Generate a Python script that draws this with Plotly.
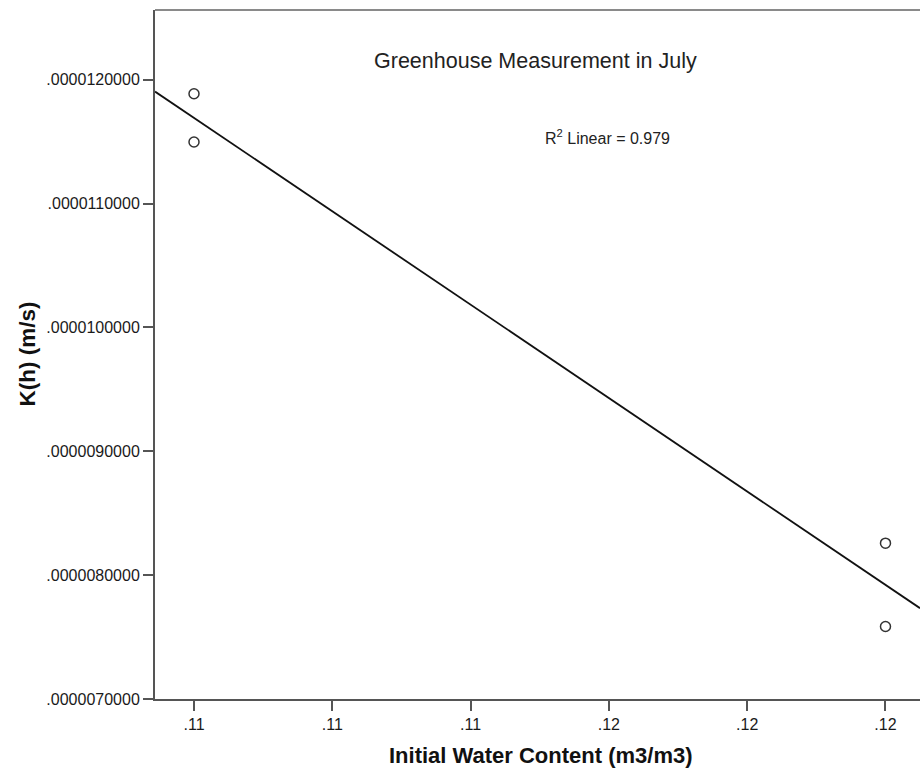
import numpy as np
import plotly.graph_objects as go

# Measured initial water content (m3/m3) and hydraulic conductivity K(h) (m/s)
water_content = [0.110, 0.110, 0.120, 0.120]
conductivity = [11.887e-6, 11.497e-6, 8.258e-6, 7.585e-6]

x_tick_vals = [0.110, 0.112, 0.114, 0.116, 0.118, 0.120]
x_tick_text = [".11", ".11", ".11", ".12", ".12", ".12"]
y_tick_vals = [7e-6, 8e-6, 9e-6, 10e-6, 11e-6, 12e-6]
y_tick_text = [".0000070000", ".0000080000", ".0000090000",
               ".0000100000", ".0000110000", ".0000120000"]

title_text = "Greenhouse Measurement in July"
r2_text = "R<sup>2</sup> Linear = 0.979"
x_title = "Initial Water Content (m3/m3)"
y_title = "K(h) (m/s)"

x_range = [0.109436, 0.120499]
y_range = [7.0e-6, 12.563e-6]

# Least-squares linear fit across the visible x range
slope, intercept = np.polyfit(water_content, conductivity, 1)
fit_x = np.array(x_range)
fit_y = slope * fit_x + intercept

FONT = "Liberation Sans, Arial, sans-serif"
AXIS_COLOR = "#555555"

fig = go.Figure()
fig.add_trace(go.Scatter(
    x=fit_x, y=fit_y, mode="lines",
    line=dict(color="#111111", width=1.8),
    hoverinfo="skip", showlegend=False,
))
fig.add_trace(go.Scatter(
    x=water_content, y=conductivity, mode="markers",
    marker=dict(symbol="circle-open", size=10, color="#333333",
                line=dict(width=1.5, color="#333333")),
    showlegend=False,
))

fig.update_layout(
    width=920, height=771,
    margin=dict(l=155, r=0, t=10, b=72),
    paper_bgcolor="white", plot_bgcolor="white",
    font=dict(family=FONT, color="#1a1a1a"),
    xaxis=dict(
        range=x_range, tickvals=x_tick_vals, ticktext=x_tick_text,
        showgrid=False, zeroline=False,
        showline=True, linecolor=AXIS_COLOR, linewidth=2,
        ticks="outside", ticklen=10, tickwidth=2, tickcolor=AXIS_COLOR,
        tickfont=dict(size=16, color="#1a1a1a", family=FONT),
    ),
    yaxis=dict(
        range=y_range, tickvals=y_tick_vals, ticktext=y_tick_text,
        showgrid=False, zeroline=False,
        showline=True, linecolor=AXIS_COLOR, linewidth=2,
        ticks="outside", ticklen=10, tickwidth=2, tickcolor=AXIS_COLOR,
        tickfont=dict(size=16, color="#1a1a1a", family=FONT),
    ),
    shapes=[dict(type="line", xref="paper", yref="paper",
                 x0=0, x1=1, y0=1, y1=1,
                 line=dict(color="#8a8a8a", width=2))],
    annotations=[
        dict(text=title_text, xref="paper", yref="paper", x=0.4975, y=0.926,
             xanchor="center", yanchor="middle", showarrow=False,
             font=dict(size=21.5, color="#222222", family=FONT)),
        dict(text=r2_text, xref="paper", yref="paper", x=0.507, y=0.815,
             xanchor="left", yanchor="middle", showarrow=False,
             font=dict(size=16, color="#222222", family=FONT)),
        dict(text="<b>" + x_title + "</b>", xref="paper", yref="paper",
             x=0.5045, y=-0.0813, xanchor="center", yanchor="middle",
             showarrow=False,
             font=dict(size=22, color="#111111", family=FONT)),
        dict(text="<b>" + y_title + "</b>", xref="paper", yref="paper",
             x=-0.1673, y=0.5, xanchor="center", yanchor="middle",
             textangle=-90, showarrow=False,
             font=dict(size=22.5, color="#111111", family=FONT)),
    ],
)

fig.write_html("out.html")
